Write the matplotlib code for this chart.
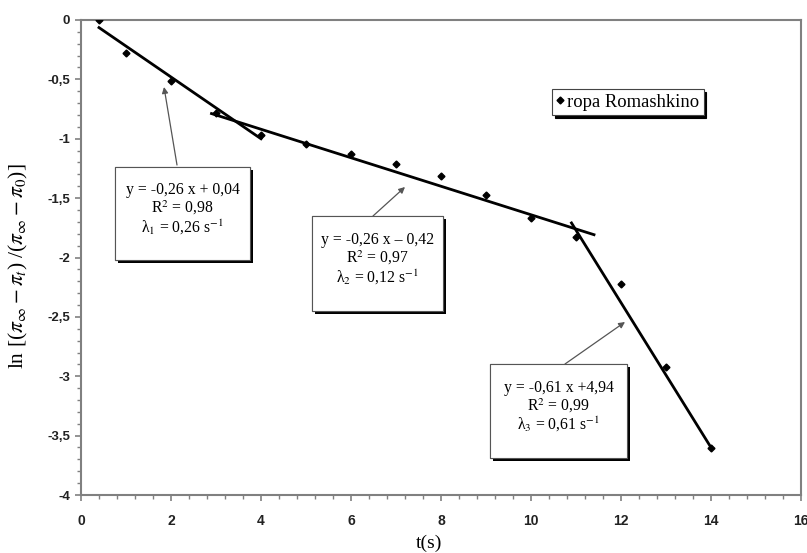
import matplotlib
matplotlib.use("Agg")
import matplotlib.pyplot as plt
import matplotlib.patheffects as pe
from matplotlib.patches import Rectangle
from matplotlib.ticker import MultipleLocator, FuncFormatter
import numpy as np

# ---- data ----
t = [0.4, 1, 2, 3, 4, 5, 6, 7, 8, 9, 10, 11, 12, 13, 14]
ln_ratio = [0.0, -0.28, -0.51, -0.78, -0.97, -1.04, -1.13, -1.21, -1.31,
            -1.47, -1.67, -1.83, -2.22, -2.92, -3.60]
series_name = "ropa Romashkino"

# fitted segments: slope, intercept, t_start, t_end (as drawn)
fit_slopes = [-0.26, -0.12, -0.61]
fit_intercepts = [0.04, -0.44, 4.94]
fit_t0 = [0.4, 2.9, 10.9]
fit_t1 = [4.0, 11.4, 14.0]

box_texts = [
    "y = -0,26 x + 0,04\nR$^{2}$ = 0,98\n\u03bb$_{1}$ = 0,26 s$^{-1}$",
    "y = -0,26 x \u2013 0,42\nR$^{2}$ = 0,97\n\u03bb$_{2}$ = 0,12 s$^{-1}$",
    "y = -0,61 x +4,94\nR$^{2}$ = 0,99\n\u03bb$_{3}$ = 0,61 s$^{-1}$",
]

xticks = [0, 2, 4, 6, 8, 10, 12, 14, 16]
yticks = [0, -0.5, -1, -1.5, -2, -2.5, -3, -3.5, -4]

plt.rcParams['mathtext.fontset'] = 'stix'
serif = ['Liberation Serif', 'DejaVu Serif']

W, H = 807, 553
fig = plt.figure(figsize=(W / 100, H / 100), dpi=100)
L, R, T, B = 81, 801, 20, 495
ax = fig.add_axes([L / W, 1 - B / H, (R - L) / W, (B - T) / H])
ax.set_xlim(0, 16)
ax.set_ylim(-4, 0)

def px2data(px, py):
    return (px - L) / (R - L) * 16, -(py - T) / (B - T) * 4

gray = '#808080'
for s in ax.spines.values():
    s.set_color(gray)
    s.set_linewidth(1.5)

ax.set_xticks(xticks)
ax.set_yticks(yticks)
ax.xaxis.set_minor_locator(MultipleLocator(0.4))
ax.yaxis.set_minor_locator(MultipleLocator(0.1))
fmt = FuncFormatter(lambda v, p: ('%g' % v).replace('.', ','))
ax.xaxis.set_major_formatter(fmt)
ax.yaxis.set_major_formatter(fmt)
ax.tick_params(which='major', direction='out', length=4, width=1.2, color=gray,
               labelcolor='#222222')
ax.tick_params(which='minor', direction='out', length=3, width=1, color=gray)
ax.tick_params(axis='x', pad=10, labelsize=10)
ax.tick_params(axis='y', pad=4, labelsize=9.5)
for lab in ax.get_xticklabels() + ax.get_yticklabels():
    lab.set_fontweight('bold')
    lab.set_family(['Liberation Sans', 'DejaVu Sans'])

# data points
ax.plot(t, ln_ratio, linestyle='none', marker='D', markersize=3.5,
        color='black', label=series_name, zorder=4)

# fit lines
for a, b, t0, t1 in zip(fit_slopes, fit_intercepts, fit_t0, fit_t1):
    xs = np.array([t0, t1])
    ax.plot(xs, a * xs + b, color='black', linewidth=2, zorder=3)

# annotation boxes (pixel rectangles) and arrows
boxes_px = [(115, 167, 250, 260), (312, 216, 443, 311), (490, 364, 627, 458)]
arrows_px = [((177, 165), (164, 87)), ((373, 216), (405, 187)), ((565, 364), (625, 322))]
shadow = [pe.withSimplePatchShadow(offset=(2.5, -2.5), shadow_rgbFace='black', alpha=1.0),
          pe.Normal()]
for (x0, y0, x1, y1), txt, ((ax0, ay0), (ax1, ay1)) in zip(boxes_px, box_texts, arrows_px):
    dx0, dy0 = px2data(x0, y1)
    dx1, dy1 = px2data(x1, y0)
    rect = Rectangle((dx0, dy0), dx1 - dx0, dy1 - dy0, facecolor='white',
                     edgecolor='#555555', linewidth=0.8, zorder=5)
    rect.set_path_effects(shadow)
    ax.add_patch(rect)
    cx, cy = px2data((x0 + x1) / 2, (y0 + y1) / 2 - 4)
    ax.text(cx, cy, txt, ha='center', va='center', fontsize=11.3,
            family=serif, linespacing=1.05, zorder=6, multialignment='center')
    s = px2data(ax0, ay0)
    e = px2data(ax1, ay1)
    ax.annotate('', xy=e, xytext=s,
                arrowprops=dict(arrowstyle='-|>', color='#555555', lw=0.9,
                                mutation_scale=9, shrinkA=0, shrinkB=0), zorder=4)

# legend
leg = ax.legend(loc='upper left', bbox_to_anchor=((552 - L) / (R - L), 1 - (89 - T) / (B - T)),
                borderaxespad=0, frameon=True, fancybox=False, edgecolor='#444444',
                framealpha=1, handlelength=0.4, handletextpad=0.15, borderpad=0.25,
                prop={'family': serif, 'size': 13.4},
                shadow={'color': 'black', 'alpha': 1.0})
leg.get_frame().set_linewidth(0.8)

ax.set_xlabel('t(s)', family=serif, fontsize=14)
ax.xaxis.set_label_coords((429 - L) / (R - L), -(543 - B) / (B - T))
ax.xaxis.label.set_va('center')
ax.set_ylabel(r'ln [($\pi_{\infty} - \pi_{t}$) /($\pi_{\infty} - \pi_{0}$)]',
              family=serif, fontsize=15.5)
ax.yaxis.set_label_coords((30 - L) / (R - L), 1 - (266 - T) / (B - T))

fig.savefig('out.png', dpi=100)
